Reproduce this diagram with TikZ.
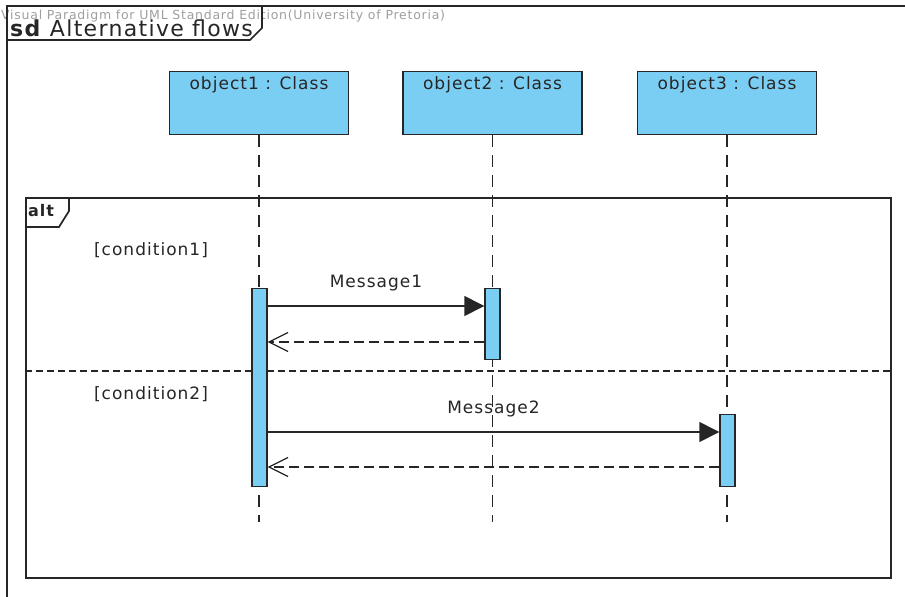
\documentclass[tikz,border=0pt]{standalone}
\usepackage{fontspec}
\setmainfont{DejaVu Sans}[LetterSpace=6]
\usetikzlibrary{arrows.meta,positioning}
\definecolor{umlblue}{HTML}{7BCEF3}
\definecolor{umlink}{HTML}{262626}
\tikzset{
  objbox/.style={draw=umlink,fill=umlblue,line width=1.4pt,minimum width=179pt,minimum height=63pt,anchor=north,inner sep=0pt},
  actbar/.style={draw=umlink,fill=umlblue,line width=1.4pt,minimum width=15pt,anchor=north,inner sep=0pt},
  lifeline/.style={draw=umlink,line width=1.3pt,dash pattern=on 12pt off 8pt},
  call/.style={draw=umlink,line width=1.4pt,-{Triangle[length=20pt,width=20pt]}},
  reply/.style={draw=umlink,line width=1.4pt,dash pattern=on 10pt off 5pt,-{Straight Barb[length=19pt,width=19pt,line width=1.2pt]}},
  frame/.style={draw=umlink,line width=1.7pt},
  txt/.style={font=\fontsize{17}{20}\selectfont,text=umlink,inner sep=0pt},
}
\begin{document}
\begin{tikzpicture}[x=1pt,y=-1pt]
  \useasboundingbox[fill=white] (0,0) rectangle (905,597);
  \node[anchor=west,text=gray!75,inner sep=0pt,font=\fontsize{12.5}{14}\selectfont] (mark) at (1,16) {Visual Paradigm for UML Standard Edition(University of Pretoria)};
  \draw[frame] (905,6) -- (7,6) -- (7,597);
  \draw[frame] (262,6) -- (262,28) -- (250,40) -- (7,40);
  \node[anchor=west,inner sep=0pt,text=umlink,font=\fontsize{22}{26}\selectfont] (title) at (10,28) {\textbf{sd} Alternative flows};

  \node[objbox,label={[txt,anchor=north,yshift=-5pt]north:object1 : Class}] (obj1) at (259,71) {};
  \node[objbox,label={[txt,anchor=north,yshift=-5pt]north:object2 : Class}] (obj2) at (492.5,71) {};
  \node[objbox,label={[txt,anchor=north,yshift=-5pt]north:object3 : Class}] (obj3) at (727,71) {};

  \coordinate (lend) at (0,522);
  \draw[lifeline] (obj1.south) -- (obj1.south |- lend);
  \draw[lifeline] (obj2.south) -- (obj2.south |- lend);
  \draw[lifeline] (obj3.south) -- (obj3.south |- lend);

  \node[frame,minimum width=865pt,minimum height=380pt,anchor=north west,inner sep=0pt] (alt) at (25,197) {};
  \draw[frame] (alt.north west) ++(44,0) -- ++(0,14) -- ++(-10,16) -- ++(-34,0);
  \node[anchor=west,inner sep=0pt,text=umlink,font=\fontsize{16}{18}\selectfont\bfseries] (altlbl) at (28,211) {alt};
  \node[txt] (cond1) at (151,250) {[condition1]};
  \node[txt] (cond2) at (151,394) {[condition2]};
  \coordinate (split) at (0,371);
  \draw[frame,line width=1.3pt,dash pattern=on 7pt off 4pt] (alt.west |- split) -- (alt.east |- split);

  \node[actbar,minimum height=198pt] (act1) at (259.5,288) {};
  \node[actbar,minimum height=71pt] (act2) at (492.5,288) {};
  \node[actbar,minimum height=72pt] (act3) at (727.5,414) {};

  \coordinate (y1) at (0,306);
  \coordinate (y2) at (0,342);
  \coordinate (y3) at (0,432);
  \coordinate (y4) at (0,467);
  \draw[call] (act1.east |- y1) -- (act2.west |- y1) node[txt,midway,above=14pt] {Message1};
  \draw[reply] (act2.west |- y2) -- (act1.east |- y2);
  \draw[call] (act1.east |- y3) -- (act3.west |- y3) node[txt,midway,above=14pt] {Message2};
  \draw[reply] (act3.west |- y4) -- (act1.east |- y4);
\end{tikzpicture}
\end{document}
